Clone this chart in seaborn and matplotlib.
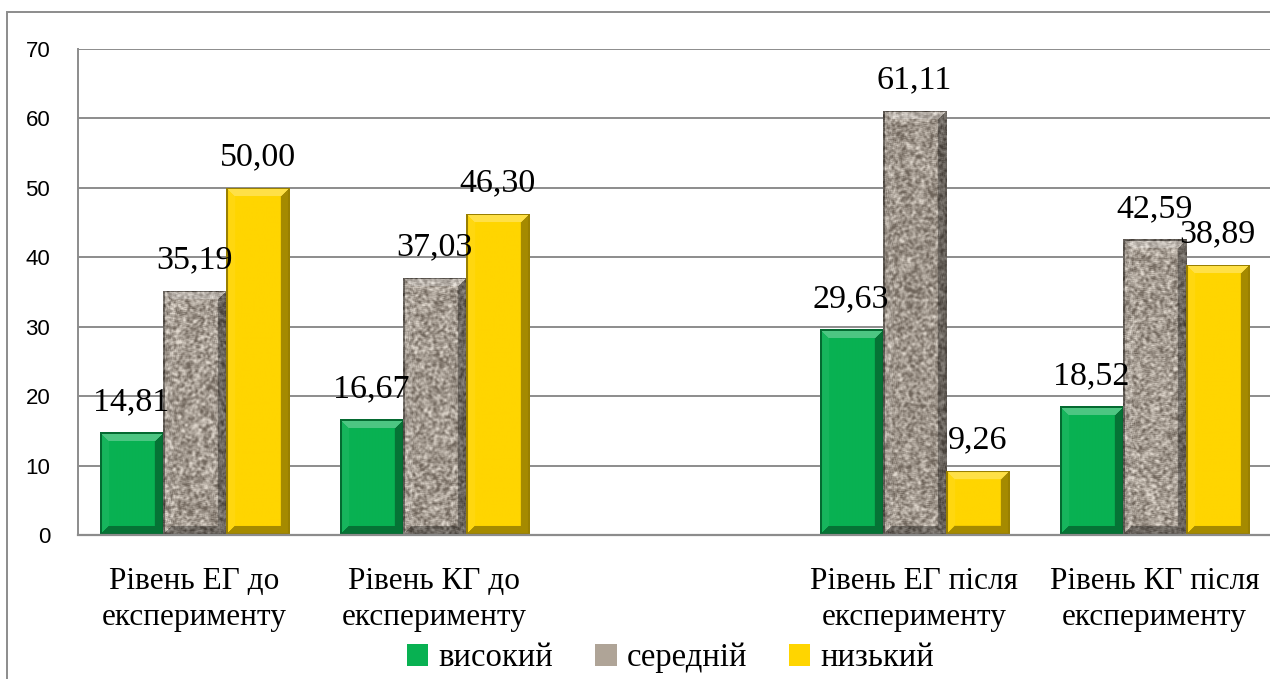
import numpy as np
import pandas as pd
import matplotlib
matplotlib.use("Agg")
import matplotlib.pyplot as plt
from matplotlib import font_manager as fm
from matplotlib.colors import to_rgb
from matplotlib.patches import Rectangle
import seaborn as sns

# ---- data ----
categories = ["Рівень ЕГ до\nексперименту", "Рівень КГ до\nексперименту", " ",
              "Рівень ЕГ після\nексперименту", "Рівень КГ після\nексперименту"]
groups = ["Рівень ЕГ до\nексперименту", "Рівень КГ до\nексперименту",
          "Рівень ЕГ після\nексперименту", "Рівень КГ після\nексперименту"]
levels = ["високий", "середній", "низький"]
high = [14.81, 16.67, 29.63, 18.52]
medium = [35.19, 37.03, 61.11, 42.59]
low = [50.00, 46.30, 9.26, 38.89]
yticks = [0, 10, 20, 30, 40, 50, 60, 70]

colors = {"високий": "#08B152", "середній": "#AFA497", "низький": "#FFD500"}

rows = []
for g, h, m, l in zip(groups, high, medium, low):
    rows += [(g, "високий", h), (g, "середній", m), (g, "низький", l)]
df = pd.DataFrame(rows, columns=["група", "рівень", "значення"])

sns.set_theme(style="white")
plt.rcParams["font.family"] = ["Liberation Serif", "DejaVu Serif"]

serif_path = fm.findfont(fm.FontProperties(family="Liberation Serif"))


def serif(size):
    return fm.FontProperties(fname=serif_path, size=size)


fig = plt.figure(figsize=(12.7, 6.79), dpi=100)
ax = fig.add_axes([78 / 1270, 144 / 679, 1197 / 1270, 486 / 679])

sns.barplot(data=df, x="група", y="значення", hue="рівень", order=categories,
            hue_order=levels, palette=colors, width=0.79, gap=0,
            errorbar=None, saturation=1, ax=ax, edgecolor="none", linewidth=0)

XMIN = -0.485
XMAX = XMIN + 1197 / 240
ax.set_xlim(XMIN, XMAX)
ax.set_ylim(0, 70)
ax.set_yticks(yticks)
ax.set_yticklabels([str(t) for t in yticks], fontfamily="Liberation Sans", fontsize=16)
ax.tick_params(axis="y", length=0, pad=20, labelcolor="black")
ax.tick_params(axis="x", length=0, pad=23, labelcolor="black")
ax.set_xticks(range(len(categories)))
ax.set_xticklabels(categories, fontproperties=serif(22.5), linespacing=1.3)
ax.set_xlabel("")
ax.set_ylabel("")

grid_col = "#8C8C8C"
ax.yaxis.grid(True, color=grid_col, linewidth=1.4)
ax.set_axisbelow(True)
for side in ["top", "right"]:
    ax.spines[side].set_visible(False)
ax.spines["left"].set_color(grid_col)
ax.spines["left"].set_linewidth(1.4)
ax.spines["bottom"].set_color(grid_col)
ax.spines["bottom"].set_linewidth(1.6)


def shade(img, amount):
    out = img.copy()
    pos = amount > 0
    out[pos] = img[pos] + (1 - img[pos]) * amount[pos][:, None]
    neg = amount < 0
    out[neg] = img[neg] * (1 + amount[neg][:, None])
    return out


def granite(h, w, rng):
    noise = rng.random((h + 6, w + 6))
    k = np.ones(3) / 3
    for axis in (0, 1):
        noise = np.apply_along_axis(lambda r: np.convolve(r, k, mode="same"), axis, noise)
    noise = noise[3:3 + h, 3:3 + w]
    noise = (noise - noise.min()) / (noise.max() - noise.min() + 1e-9)
    dark = np.array(to_rgb("#6F655B"))
    light = np.array(to_rgb("#E2DAD0"))
    t = np.clip((noise - 0.2) / 0.65, 0, 1)[..., None]
    return dark + (light - dark) * t


def bevel_image(color, w, h, rng, textured=False):
    if textured:
        img = granite(h, w, rng)
    else:
        img = np.ones((h, w, 3)) * np.array(to_rgb(color))
    yy, xx = np.mgrid[0:h, 0:w]
    d = np.stack([yy, h - 1 - yy, xx, w - 1 - xx])
    idx = d.argmin(0)
    dmin = d.min(0)
    b = 9
    amt = np.array([0.28, -0.35, 0.06, -0.35])[idx] * (dmin < b)
    amt = np.where(dmin < 2, -0.4, amt)
    return np.clip(shade(img, amt.astype(float)), 0, 1)


# bevelled fill for every bar, clipped to the bar rectangle
rng = np.random.default_rng(3)
bbox = ax.get_position()
px_per_x = bbox.width * 1270 / (XMAX - XMIN)
px_per_y = bbox.height * 679 / 70
for container, lev in zip(ax.containers, levels):
    for patch in container.patches:
        if np.isnan(patch.get_height()) or patch.get_height() == 0:
            continue
        x0, y0 = patch.get_x(), patch.get_y()
        x1, y1 = x0 + patch.get_width(), y0 + patch.get_height()
        w = max(int(round((x1 - x0) * px_per_x)), 4)
        h = max(int(round((y1 - y0) * px_per_y)), 4)
        img = bevel_image(colors[lev], w, h, rng, textured=(lev == "середній"))
        im = ax.imshow(img, extent=(x0, x1, y0, y1), origin="upper", aspect="auto",
                       interpolation="bilinear", zorder=patch.get_zorder() + 0.1)
        im.set_clip_path(patch)
    ax.bar_label(container, labels=[f"{v:.2f}".replace(".", ",") for v in container.datavalues],
                 padding=11, fontproperties=serif(24.5), color="black", zorder=10)

ax.set_xlim(XMIN, XMAX)
ax.set_ylim(0, 70)

# legend below the axis
handles, labels = ax.get_legend_handles_labels()
if ax.legend_:
    ax.legend_.remove()
fig.legend(handles, labels, loc="center", bbox_to_anchor=(0.528, 1 - 658 / 679), ncol=3,
           frameon=False, prop=serif(23.5), labelcolor="black",
           handlelength=0.65, handleheight=0.65, handletextpad=0.3, columnspacing=1.3)

# outer chart frame
fig.patches.append(Rectangle((7 / 1270, -0.2), 1.2, 1.2 - 12 / 679,
                             transform=fig.transFigure, fill=False,
                             edgecolor="#8C8C8C", linewidth=1.4, clip_on=False))

fig.savefig("out.png", dpi=100)
